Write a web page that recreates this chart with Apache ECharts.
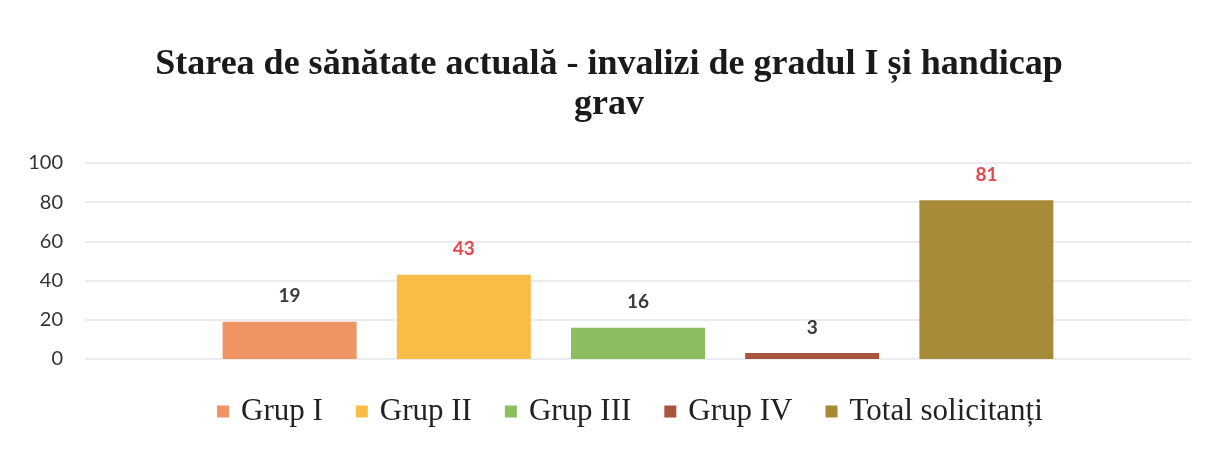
<!DOCTYPE html>
<html lang="ro">
<head>
    <meta charset="UTF-8">
    <title>Starea de sănătate actuală</title>
    <style>
        * { margin: 0; padding: 0; }
        html, body { background: #fff; }
        #chart { width: 1218px; height: 450px; }
    </style>
</head>
<body>
    <div id="chart"></div>
    <script src="https://cdn.jsdelivr.net/npm/echarts@6/dist/echarts.min.js"></script>
    <script>
        // date
        var groupNames = ['Grup I', 'Grup II', 'Grup III', 'Grup IV', 'Total solicitanți'];
        var groupValues = [19, 43, 16, 3, 81];
        var barColors = ['#EF9463', '#F9BC45', '#8CBD5F', '#A9553D', '#A68A37'];
        var labelColors = ['#3a3a3a', '#E5484D', '#3a3a3a', '#3a3a3a', '#E5484D'];
        var yTicks = [0, 20, 40, 60, 80, 100];

        var chart = echarts.init(document.getElementById('chart'));

        var series = [];
        for (var i = 0; i < groupNames.length; i++) {
            series.push({
                name: groupNames[i],
                type: 'bar',
                data: [groupValues[i]],
                barWidth: 134,
                barGap: '30%',
                itemStyle: { color: barColors[i] },
                label: {
                    show: true,
                    position: 'top',
                    distance: 16,
                    color: labelColors[i],
                    fontFamily: 'Lato',
                    fontWeight: 'bold',
                    fontSize: 19
                }
            });
        }

        var option = {
            animation: false,
            title: {
                text: 'Starea de sănătate actuală - invalizi de gradul I și handicap\ngrav',
                left: 'center',
                top: 40,
                textStyle: {
                    fontFamily: 'Liberation Serif',
                    fontWeight: 'bold',
                    fontSize: 36,
                    lineHeight: 40,
                    color: '#1a1a1a'
                }
            },
            legend: {
                bottom: 18,
                left: 212,
                icon: 'rect',
                itemWidth: 12,
                itemHeight: 12,
                itemGap: 33,
                textStyle: {
                    fontFamily: 'Liberation Serif',
                    fontSize: 31,
                    color: '#222',
                    padding: [0, 0, 0, 7]
                },
                data: groupNames
            },
            grid: {
                left: 85,
                right: 27,
                top: 163,
                bottom: 91
            },
            xAxis: {
                type: 'category',
                data: [''],
                axisLine: { show: false },
                axisTick: { show: false },
                axisLabel: { show: false }
            },
            yAxis: {
                type: 'value',
                min: yTicks[0],
                max: yTicks[yTicks.length - 1],
                interval: 20,
                axisLine: { show: false },
                axisTick: { show: false },
                axisLabel: {
                    margin: 22,
                    fontFamily: 'Lato',
                    fontSize: 20,
                    color: '#333'
                },
                splitLine: { lineStyle: { color: '#e3e6ea', width: 1.5 } }
            },
            series: series
        };

        chart.setOption(option);
    </script>
</body>
</html>
